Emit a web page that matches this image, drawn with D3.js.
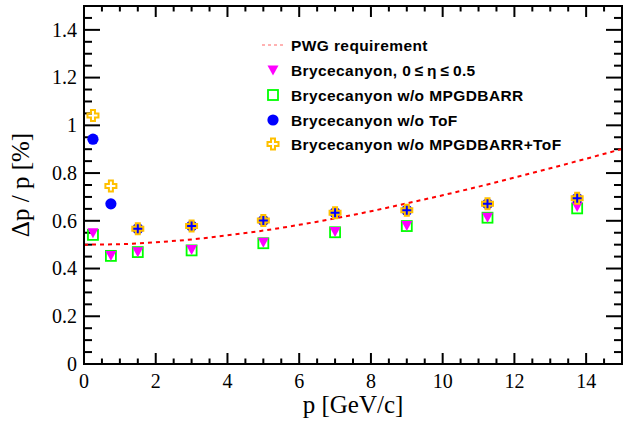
<!DOCTYPE html>
<html><head><meta charset="utf-8">
<script src="https://cdn.jsdelivr.net/npm/d3@7"></script>
<style>body{margin:0;background:#fff}svg{display:block}</style>
</head><body>
<svg id="c" width="623" height="422"></svg>
<script>
const momenta = [0.25, 0.75, 1.5, 3, 5, 7, 9, 11.25, 13.75];
const nominal = [0.55, 0.455, 0.47, 0.48, 0.51, 0.555, 0.58, 0.615, 0.66];
const noMPGD = [0.541, 0.453, 0.469, 0.476, 0.506, 0.552, 0.578, 0.613, 0.652];
const noToF = [0.942, 0.671, 0.567, 0.578, 0.601, 0.634, 0.644, 0.671, 0.694];
const noMPGDToF = [1.041, 0.746, 0.567, 0.578, 0.601, 0.634, 0.644, 0.671, 0.694];
const pwgP = [0, 1, 2, 3, 4, 5, 6, 7, 8, 9, 10, 11, 12, 13, 14, 15];
const pwgReq = [0.500, 0.502, 0.510, 0.522, 0.539, 0.559, 0.583, 0.610, 0.640, 0.673, 0.707, 0.743, 0.781, 0.820, 0.860, 0.901];
const xTicks = [0, 2, 4, 6, 8, 10, 12, 14];
const yTicks = [0, 0.2, 0.4, 0.6, 0.8, 1, 1.2, 1.4];
const legendLabels = ["PWG requirement", "Brycecanyon, 0\u2009\u2264\u2009\u03b7\u2009\u2264\u20090.5", "Brycecanyon w/o MPGDBARR", "Brycecanyon w/o ToF", "Brycecanyon w/o MPGDBARR+ToF"];

const L = 84, R = 622, T = 6, B = 364;
const svg = d3.select("#c");
const x = d3.scaleLinear().domain([0, 15]).range([L, R]);
const y = d3.scaleLinear().domain([0, 1.5]).range([B, T]);

const serif = "'Liberation Serif','Times New Roman',serif";
const sans = "'Liberation Sans',Arial,Helvetica,sans-serif";

// ticks
const g = svg.append("g").attr("stroke", "#000").attr("stroke-width", 2);
const xMinor = d3.range(0, 15.001, 0.5);
const yMinor = d3.range(0, 1.5001, 0.05);
xMinor.forEach(v => {
  const major = Math.abs(v / 2 - Math.round(v / 2)) < 1e-6;
  const len = major ? 11 : 5.5;
  g.append("line").attr("x1", x(v)).attr("x2", x(v)).attr("y1", B).attr("y2", B - len);
  g.append("line").attr("x1", x(v)).attr("x2", x(v)).attr("y1", T).attr("y2", T + len);
});
yMinor.forEach(v => {
  const major = Math.abs(v / 0.2 - Math.round(v / 0.2)) < 1e-6;
  const len = major ? 16 : 8;
  g.append("line").attr("y1", y(v)).attr("y2", y(v)).attr("x1", L).attr("x2", L + len);
  g.append("line").attr("y1", y(v)).attr("y2", y(v)).attr("x1", R).attr("x2", R - len);
});

// tick labels
svg.append("g").selectAll("text").data(xTicks).join("text")
  .attr("x", d => x(d)).attr("y", 388).attr("text-anchor", "middle")
  .attr("font-family", serif).attr("font-size", 20).text(d => d);
svg.append("g").selectAll("text").data(yTicks).join("text")
  .attr("x", 77).attr("y", d => y(d) + 6.8).attr("text-anchor", "end")
  .attr("font-family", serif).attr("font-size", 20).text(d => d === 0 ? "0" : d3.format("")(d));

// titles
svg.append("text").attr("x", (L + R) / 2).attr("y", 413).attr("text-anchor", "middle")
  .attr("font-family", serif).attr("font-size", 25).text("p [GeV/c]");
svg.append("text").attr("transform", `translate(29,${(T + B) / 2}) rotate(-90)`).attr("text-anchor", "middle")
  .attr("font-family", serif).attr("font-size", 25).text("\u0394p / p [%]");

// PWG curve
svg.append("clipPath").attr("id", "clip").append("rect").attr("x", L).attr("y", T).attr("width", R - L).attr("height", B - T);
svg.append("path").datum(pwgP.map((p, i) => [p, pwgReq[i]]))
  .attr("clip-path", "url(#clip)")
  .attr("d", d3.line().x(d => x(d[0])).y(d => y(d[1])).curve(d3.curveMonotoneX))
  .attr("fill", "none").attr("stroke", "#ff0000").attr("stroke-width", 2).attr("stroke-dasharray", "4,4");

// marker shapes
function triangle(sel) { sel.append("path").attr("d", "M-5.5,-4.5 L5.5,-4.5 L0,5.5 Z").attr("fill", "#ff00ff"); }
function square(sel) { sel.append("rect").attr("x", -5).attr("y", -5).attr("width", 10).attr("height", 10).attr("fill", "none").attr("stroke", "#00ff00").attr("stroke-width", 1.8); }
function circle(sel) { sel.append("circle").attr("r", 5.6).attr("fill", "#0000ff"); }
const crossPath = "M-2,-5.5 L2,-5.5 L2,-2 L5.5,-2 L5.5,2 L2,2 L2,5.5 L-2,5.5 L-2,2 L-5.5,2 L-5.5,-2 L-2,-2 Z";
function cross(sel) { sel.append("path").attr("d", crossPath).attr("fill", "none").attr("stroke", "#ffc000").attr("stroke-width", 2); }

function drawSeries(vals, shape) {
  vals.forEach((v, i) => {
    const s = svg.append("g").attr("transform", `translate(${x(momenta[i])},${y(v)})`);
    shape(s);
  });
}
drawSeries(noMPGD, square);
drawSeries(nominal, triangle);
drawSeries(noToF, circle);
drawSeries(noMPGDToF, cross);

// frame
svg.append("rect").attr("x", L).attr("y", T).attr("width", R - L).attr("height", B - T)
  .attr("fill", "none").attr("stroke", "#000").attr("stroke-width", 2);

// legend
const rows = [45, 70, 95, 120, 144];
const lg = svg.append("g");
lg.append("line").attr("x1", 262).attr("x2", 286).attr("y1", rows[0]).attr("y2", rows[0])
  .attr("stroke", "#ff0000").attr("stroke-width", 1).attr("stroke-dasharray", "3,3").attr("opacity", 0.6);
[null, triangle, square, circle, cross].forEach((sh, i) => {
  if (sh) sh(lg.append("g").attr("transform", `translate(273,${rows[i]})`));
});
lg.selectAll("text").data(legendLabels).join("text")
  .attr("x", 291).attr("y", (d, i) => rows[i] + 5.5)
  .attr("font-family", sans).attr("font-weight", "bold").attr("font-size", 15.5)
  .attr("letter-spacing", 0.4).text(d => d);
</script>
</body></html>
